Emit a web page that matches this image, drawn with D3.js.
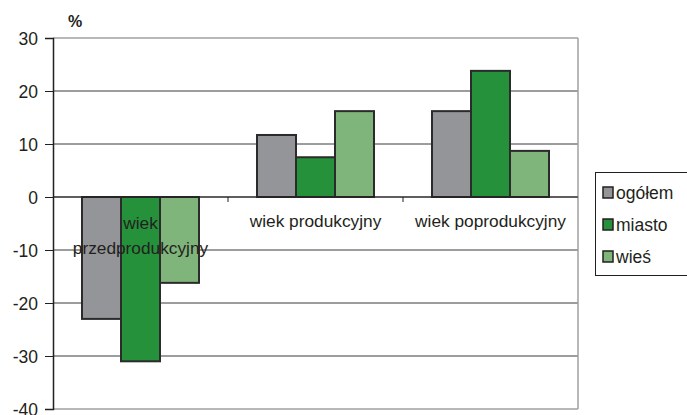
<!DOCTYPE html>
<html><head><meta charset="utf-8">
<script src="https://cdn.jsdelivr.net/npm/d3@7"></script>
<style>body{margin:0;background:#fff}svg{display:block}text{font-family:"Liberation Sans",Arial,sans-serif;fill:#231f20}</style>
</head><body><svg id="c" width="687" height="415"></svg>
<script>
const categories = [["wiek","przedprodukcyjny"],["wiek produkcyjny"],["wiek poprodukcyjny"]];
const seriesNames = ["ogółem","miasto","wieś"];
const ogolem = [-23, 11.7, 16.2];
const miasto = [-31, 7.5, 23.8];
const wies = [-16.2, 16.2, 8.7];
const yTicks = [30,20,10,0,-10,-20,-30,-40];
const colors = ["#939598","#25923b","#7fb57a"];

const svg = d3.select("#c");
const L=53,R=578,T=38,B=409;
const y = d3.scaleLinear().domain([-40,30]).range([B,T]);
const x = d3.scaleBand().domain(d3.range(categories.length)).range([L,R]);
const xs = d3.scaleBand().domain(d3.range(3)).range([0,117]);
const series=[ogolem,miasto,wies];

svg.append("g").selectAll("line").data(yTicks.filter(v=>v!==30&&v!==-40)).join("line")
 .attr("x1",L).attr("x2",R).attr("y1",d=>y(d)).attr("y2",d=>y(d)).attr("stroke","#3a3a3a").attr("stroke-width",1);
svg.append("line").attr("x1",L).attr("x2",R).attr("y1",y(30)).attr("y2",y(30)).attr("stroke","#a0a0a0").attr("stroke-width",1.5);
svg.append("line").attr("x1",R).attr("x2",R).attr("y1",y(30)).attr("y2",B).attr("stroke","#a0a0a0").attr("stroke-width",1.5);
svg.append("line").attr("x1",L).attr("x2",R).attr("y1",B).attr("y2",B).attr("stroke","#a0a0a0").attr("stroke-width",1.5);

series.forEach((s,i)=>{
  svg.append("g").selectAll("rect").data(s).join("rect")
   .attr("x",(d,j)=>x(j)+(x.bandwidth()-117)/2+xs(i))
   .attr("width",xs.bandwidth())
   .attr("y",d=>y(Math.max(0,d))).attr("height",d=>Math.abs(y(d)-y(0)))
   .attr("fill",colors[i]).attr("stroke","#2b2b2b").attr("stroke-width",2);
});

const ya = svg.append("g").attr("transform",`translate(${L},0)`).call(d3.axisLeft(y).tickValues(yTicks).tickSize(8).tickFormat(d=>String(d)));
ya.select(".domain").attr("stroke","#231f20").attr("stroke-width",1.5);
ya.selectAll(".tick line").attr("stroke","#231f20");
ya.selectAll(".tick text").attr("font-size",17.5).attr("x",-15).attr("dy","0.36em").style("fill","#231f20").attr("font-family","Liberation Sans, Arial, sans-serif");

svg.append("line").attr("x1",L).attr("x2",R).attr("y1",y(0)).attr("y2",y(0)).attr("stroke","#231f20").attr("stroke-width",1.2);
svg.append("g").selectAll("line").data([1,2]).join("line")
 .attr("x1",d=>x(d)).attr("x2",d=>x(d)).attr("y1",y(0)).attr("y2",y(0)+5).attr("stroke","#231f20");

categories.forEach((c,j)=>{
  const t = svg.append("text").attr("text-anchor","middle").attr("font-size",17.3);
  c.forEach((line,k)=>{
    t.append("tspan").attr("x",x(j)+x.bandwidth()/2).attr("y", c.length>1 ? 229+k*25 : 227).text(line);
  });
});

svg.append("text").attr("x",68).attr("y",27).attr("font-size",16).attr("font-weight","bold").text("%");

const lg = svg.append("g");
lg.append("rect").attr("x",595.5).attr("y",172.5).attr("width",92).attr("height",103).attr("fill","#fff").attr("stroke","#231f20").attr("stroke-width",1);
seriesNames.forEach((n,i)=>{
  const cy = 193+i*32;
  lg.append("rect").attr("x",603).attr("y",cy-6).attr("width",10).attr("height",11).attr("fill",colors[i]).attr("stroke","#231f20").attr("stroke-width",1.5);
  lg.append("text").attr("x",616).attr("y",cy+6).attr("font-size",17.5).text(n);
});
</script></body></html>
